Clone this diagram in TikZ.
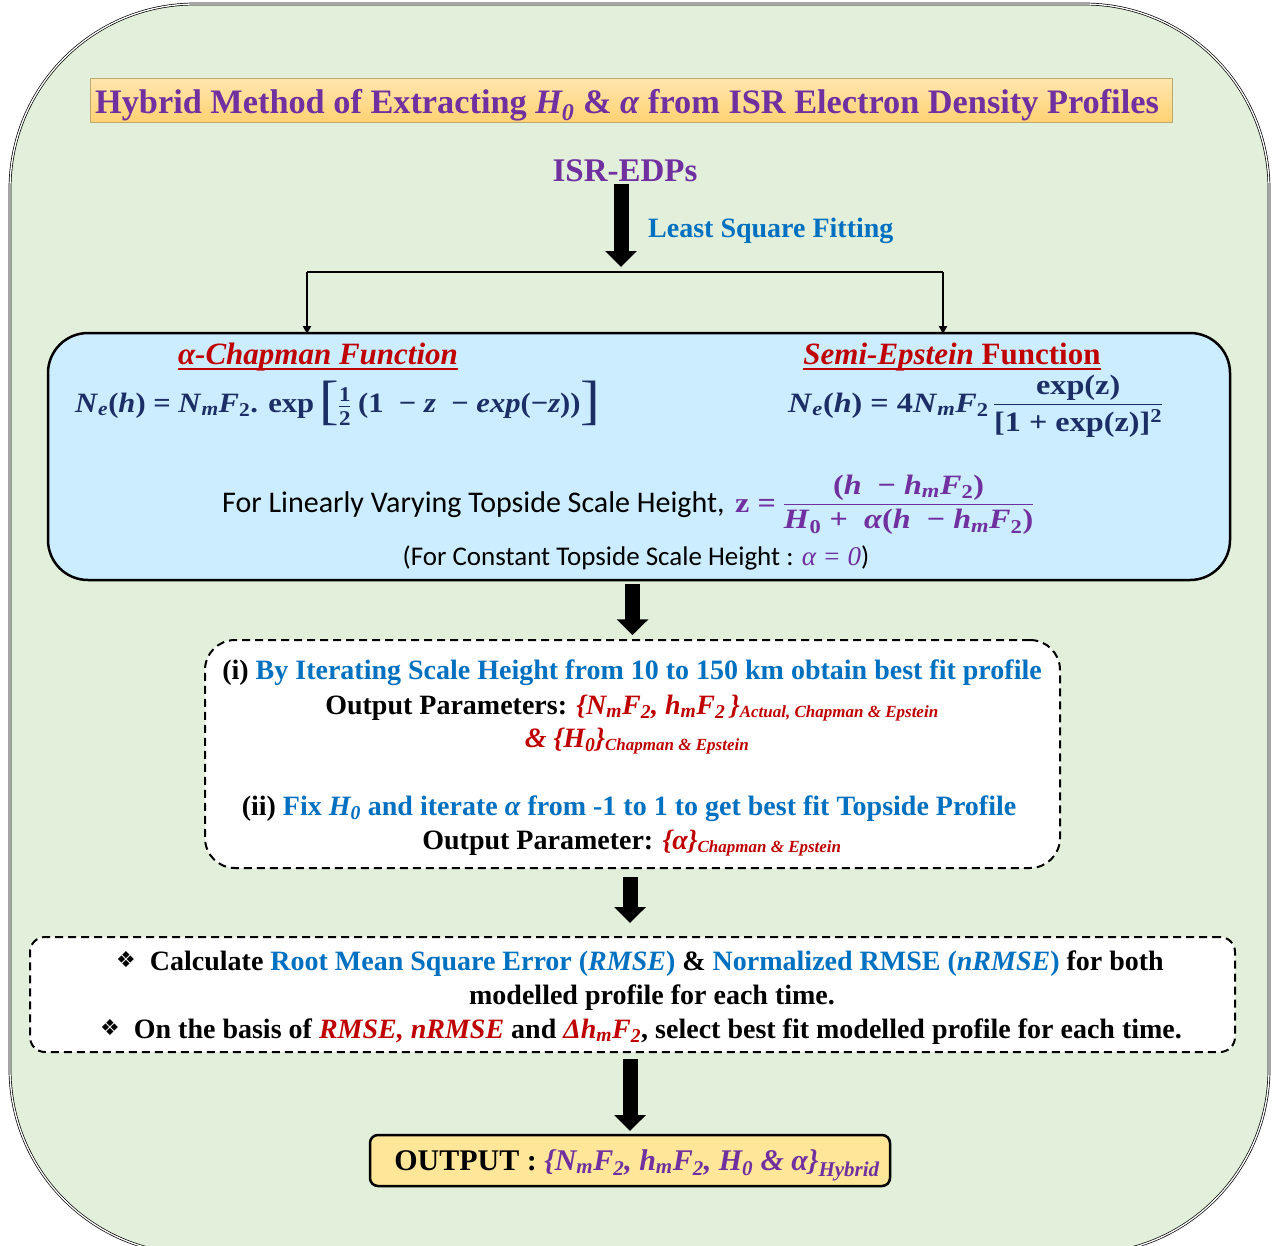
\documentclass[tikz,border=0pt]{standalone}
\usepackage{graphicx}
\usepackage{fontspec}
\setmainfont{Liberation Serif}
\newfontfamily\cali{Carlito}
\newfontfamily\djv{DejaVu Sans}
\usetikzlibrary{arrows.meta,calc}
\definecolor{bggreen}{HTML}{E2EFDA}
\definecolor{ppl}{HTML}{7030A0}
\definecolor{blu}{HTML}{0070C0}
\definecolor{dred}{HTML}{C00000}
\definecolor{eqnavy}{HTML}{1B2F66}
\definecolor{lblue}{HTML}{CCECFF}
\definecolor{outy}{HTML}{FFE699}
\definecolor{tboxtop}{HTML}{FFE6AE}
\definecolor{tboxbot}{HTML}{FFD273}
\definecolor{tboxline}{HTML}{BFA970}
\newcommand\fsz[1]{\fontsize{#1}{#1}\selectfont}
\newcommand\dia{{\djv\fsz{22}\raisebox{0.1em}{❖}}}
\newsavebox\fracden
\newcommand\myfrac[2]{\sbox\fracden{#2}\raisebox{\dimexpr 0.26em-\ht\fracden-4.6pt\relax}{\vbox{\halign{\hfil##\hfil\cr #1\cr\noalign{\kern4pt\hrule height 1.2pt\kern4pt}\usebox\fracden\cr}}}}
\newcommand\vi[1]{\textit{#1}}
\newcommand\ssb[2]{\textsubscript{\fsz{#1}#2}}
\newcommand\lbr{{\mdseries\fsz{54}\raisebox{-0.12em}{[}}}
\newcommand\rbr{{\mdseries\fsz{54}\raisebox{-0.12em}{]}}}
\tikzset{
  txt/.style={inner sep=0pt, anchor=base},
  framebox/.style={draw=black, double=white, double distance=1.3pt, line width=0.7pt, fill=bggreen, rounded corners=185pt},
  tbox/.style={draw=tboxline, line width=0.8pt, top color=tboxtop, bottom color=tboxbot},
  bbox/.style={draw=black, line width=2.5pt, fill=lblue, rounded corners=40pt},
  dbox/.style={draw=black, line width=2pt, fill=white, dash pattern=on 8pt off 5pt},
  obox/.style={draw=black, line width=2.5pt, fill=outy, rounded corners=8pt},
  bigarr/.style={draw=black, line width=15pt, -{Triangle[width=31pt,length=16pt]}},
  smallarr/.style={draw=black, line width=2pt, -{Triangle[width=8pt,length=8pt]}},
}
\begin{document}
\begin{tikzpicture}[x=1pt,y=-1pt]
\useasboundingbox (0,0) rectangle (1274,1245);
\fill[white] (0,0) rectangle (1274,1245);
% boxes
\node[framebox, minimum width=1259pt, minimum height=1250pt, inner sep=0pt] (outer) at (639.5,629) {};
\node[tbox, minimum width=1082pt, minimum height=44pt, inner sep=0pt] (tb) at (631,100) {};
\node[bbox, minimum width=1182pt, minimum height=247pt, inner sep=0pt] (funcs) at (639,456.5) {};
\node[dbox, rounded corners=30pt, minimum width=855pt, minimum height=228pt, inner sep=0pt] (iter) at (632.5,754) {};
\node[dbox, rounded corners=15pt, minimum width=1205pt, minimum height=115pt, inner sep=0pt] (eval) at (632.5,994.5) {};
\node[obox, minimum width=520pt, minimum height=51pt, inner sep=0pt] (out) at (630,1160.5) {};
% title
\node[txt, text=ppl] (title) at (627,113) {\fsz{34.3}\bfseries Hybrid Method of Extracting \textit{H\textsubscript{0}} \& \textit{α} from ISR Electron Density Profiles};
% ISR-EDPs
\node[txt, text=ppl] (isr) at (625,181) {\fsz{33}\bfseries ISR-EDPs};
\node[txt, anchor=base west, text=blu] (lsf) at (648,237) {\fsz{28}\bfseries Least Square Fitting};
\coordinate (split) at (621,272);
\coordinate (chapTop) at (307,334);
\coordinate (epTop) at (943,334);
\draw[bigarr, shorten >=5pt] (isr.south -| split) ++(0,2) -- (split);
\draw[line width=2pt] (split) -- (split -| chapTop);
\draw[line width=2pt] (split) -- (split -| epTop);
\draw[smallarr] (split -| chapTop) -- (chapTop);
\draw[smallarr] (split -| epTop) -- (epTop);
% arrows between boxes
\draw[bigarr] (funcs.south -| iter.north) ++(0,3) -- ++(0,51);
\draw[bigarr] (iter.south -| out.north) ++(0,8) -- ++(0,46);
\draw[bigarr] (eval.south -| out.north) ++(0,6) -- ++(0,72);
% function box text
\node[txt, text=dred] (chap) at (318,364) {\fsz{31}\bfseries\itshape α-Chapman Function};
\draw[dred, line width=2.5pt] ($(chap.base west)+(0,5)$) -- ($(chap.base east)+(0,5)$);
\node[txt, text=dred] (ep) at (952,364) {\fsz{31}\bfseries{\itshape Semi-Epstein} Function};
\draw[dred, line width=2.5pt] ($(ep.base west)+(0,5)$) -- ($(ep.base east)+(0,5)$);
\node[txt, anchor=base west, text=eqnavy] (eqc) at (75,412) {\resizebox{525pt}{\height}{\fsz{28}\bfseries \vi{N}\textsubscript{\vi{e}}(\vi{h})\ = \vi{N}\textsubscript{\vi{m}}\vi{F}\textsubscript{2}. exp\,\lbr{\fsz{21}\myfrac{1}{2}}\ (1\ \ − \vi{z}\ \ − \vi{exp}(−\vi{z}))\rbr}};
\node[txt, anchor=base west, text=eqnavy] (eqe) at (788,412) {\resizebox{374pt}{\height}{\fsz{28}\bfseries \vi{N}\textsubscript{\vi{e}}(\vi{h})\ = 4\vi{N}\textsubscript{\vi{m}}\vi{F}\textsubscript{2}\,\myfrac{exp(z)}{[1 + exp(z)]\textsuperscript{2}}}};
\node[txt, anchor=base west] (lin) at (222,512) {\cali\fsz{30}For Linearly Varying Topside Scale Height,};
\node[txt, anchor=base west, text=ppl] (zfrac) at (735,512) {\resizebox{298pt}{\height}{\rmfamily\bfseries\fsz{28}z =\ \myfrac{(\vi{h}\ \ − \vi{h}\textsubscript{\vi{m}}\vi{F}\textsubscript{2})}{\vi{H}\textsubscript{0} +\ \ \vi{α}(\vi{h}\ \ − \vi{h}\textsubscript{\vi{m}}\vi{F}\textsubscript{2})}}};
\node[txt] (const) at (636,565) {\cali\fsz{27}(For Constant Topside Scale Height : {\rmfamily\itshape\color{ppl}α = 0})};
% iteration box text
\node[txt] (l1) at (632,679) {\fsz{28}\bfseries (i) {\color{blu}By Iterating Scale Height from 10 to 150 km obtain best fit profile}};
\node[txt] (l2) at (632,714) {\fsz{28}\bfseries Output Parameters: {\color{dred}\itshape \{N\textsubscript{m}F\textsubscript{2}, h\textsubscript{m}F\textsubscript{2}\,\}\ssb{17}{Actual, Chapman \& Epstein}}};
\node[txt] (l3) at (637,747) {\fsz{28}\bfseries\itshape\color{dred}\& \{H\textsubscript{0}\}\ssb{17}{Chapman \& Epstein}};
\node[txt] (l4) at (629,815) {\fsz{28}\bfseries (ii) {\color{blu}Fix \textit{H\textsubscript{0}} and iterate \textit{α} from -1 to 1 to get best fit Topside Profile}};
\node[txt] (l5) at (632,849) {\fsz{28}\bfseries Output Parameter: {\color{dred}\itshape \{α\}\ssb{17}{Chapman \& Epstein}}};
% evaluation box text
\node[txt] (e1) at (640,970) {\fsz{28}\bfseries\dia\ \ Calculate {\color{blu}Root Mean Square Error (\textit{RMSE})} \& {\color{blu}Normalized RMSE (\textit{nRMSE})} for both};
\node[txt] (e2) at (652,1004) {\fsz{28}\bfseries modelled profile for each time.};
\node[txt] (e3) at (641,1038) {\fsz{28}\bfseries\dia\ \ On the basis of {\color{dred}\itshape RMSE, nRMSE} and {\color{dred}\itshape Δh\textsubscript{m}F\textsubscript{2}}, select best fit modelled profile for each time.};
% output text
\node[txt] (otext) at (637,1170) {\fsz{30}\bfseries OUTPUT : {\color{ppl}\itshape \{N\textsubscript{m}F\textsubscript{2}, h\textsubscript{m}F\textsubscript{2}, H\textsubscript{0} \& α\}\textsubscript{Hybrid}}};
\end{tikzpicture}
\end{document}
